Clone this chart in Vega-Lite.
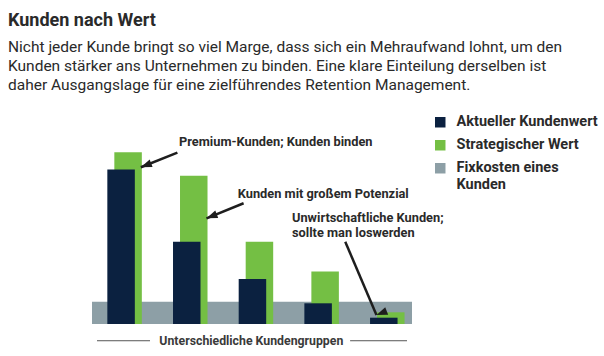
{
  "$schema": "https://vega.github.io/schema/vega-lite/v6.json",
  "autosize": "none",
  "width": 320,
  "height": 180,
  "padding": {"left": 92, "top": 144, "right": 192, "bottom": 32},
  "background": "white",
  "config": {
    "font": "Roboto, sans-serif",
    "view": {"stroke": null}
  },
  "title": {
    "text": "Kunden nach Wert",
    "subtitle": [
      "Nicht jeder Kunde bringt so viel Marge, dass sich ein Mehraufwand lohnt, um den",
      "Kunden stärker ans Unternehmen zu binden. Eine klare Einteilung derselben ist",
      "daher Ausgangslage für eine zielführendes Retention Management."
    ],
    "anchor": "start",
    "frame": "group",
    "dx": -84,
    "offset": 22,
    "fontSize": 18,
    "fontWeight": "bold",
    "color": "#2a2a2a",
    "subtitleFontSize": 15.5,
    "subtitleColor": "#2a2a2a",
    "subtitleFontWeight": "normal",
    "subtitlePadding": 10,
    "subtitleLineHeight": 19
  },
  "datasets": {
    "werte": [
      {"gruppe": 1, "serie": "Strategischer Wert", "wert": 95.4},
      {"gruppe": 2, "serie": "Strategischer Wert", "wert": 82.4},
      {"gruppe": 3, "serie": "Strategischer Wert", "wert": 45.7},
      {"gruppe": 4, "serie": "Strategischer Wert", "wert": 29.1},
      {"gruppe": 5, "serie": "Strategischer Wert", "wert": 6.5},
      {"gruppe": 1, "serie": "Aktueller Kundenwert", "wert": 85.9},
      {"gruppe": 2, "serie": "Aktueller Kundenwert", "wert": 45.7},
      {"gruppe": 3, "serie": "Aktueller Kundenwert", "wert": 25.0},
      {"gruppe": 4, "serie": "Aktueller Kundenwert", "wert": 11.5},
      {"gruppe": 5, "serie": "Aktueller Kundenwert", "wert": 3.5}
    ],
    "fix": [
      {"serie": "Fixkosten eines Kunden", "wert": 12.4}
    ],
    "notizen": [
      {"text": "Premium-Kunden; Kunden binden", "x": 1.829, "y": 101.3},
      {"text": "Kunden mit großem Potenzial", "x": 2.723, "y": 72.2},
      {"text": "Unwirtschaftliche Kunden;", "x": 3.549, "y": 58.7},
      {"text": "sollte man loswerden", "x": 3.549, "y": 50.4}
    ],
    "pfeile": [
      {"pfeil": "Premium", "x1": 1.804, "y1": 95.2, "x2": 1.248, "y2": 87.1},
      {"pfeil": "Potenzial", "x1": 2.812, "y1": 67.1, "x2": 2.247, "y2": 58.7},
      {"pfeil": "Unwirtschaftlich", "x1": 4.36, "y1": 45.7, "x2": 4.835, "y2": 5.0}
    ],
    "achse": [
      {"x1": 0.58, "x2": 1.387, "y": -9.3},
      {"x1": 4.434, "x2": 5.3, "y": -9.3}
    ],
    "achsentitel": [
      {"text": "Unterschiedliche Kundengruppen", "x": 2.93, "y": -9.3}
    ]
  },
  "layer": [
    {
      "data": {"name": "fix"},
      "mark": {"type": "rect"},
      "encoding": {
        "y": {"field": "wert", "type": "quantitative", "scale": {"domain": [0, 100], "nice": false, "zero": false}, "axis": null},
        "y2": {"datum": 0},
        "color": {
          "field": "serie",
          "type": "nominal",
          "scale": {
            "domain": ["Aktueller Kundenwert", "Strategischer Wert", "Fixkosten eines Kunden"],
            "range": ["#0b2140", "#74bf44", "#8d9fa6"]
          },
          "legend": {
            "title": null,
            "orient": "none",
            "legendX": 341,
            "legendY": -29,
            "padding": 0,
            "symbolType": "square",
            "symbolSize": 110,
            "symbolStrokeWidth": 0,
            "symbolOpacity": 1,
            "labelFontSize": 14.5,
            "labelFontWeight": "bold",
            "labelColor": "#2a2a2a",
            "labelOffset": 9,
            "rowPadding": 8,
            "labelLimit": 300,
            "labelExpr": "datum.label == 'Fixkosten eines Kunden' ? ['Fixkosten eines', 'Kunden'] : datum.label"
          }
        }
      }
    },
    {
      "data": {"name": "werte"},
      "transform": [{"filter": "datum.serie == 'Strategischer Wert'"}],
      "mark": {"type": "bar", "width": 27.5, "xOffset": 3.5},
      "encoding": {
        "x": {"field": "gruppe", "type": "quantitative", "scale": {"domain": [0.58, 5.3], "nice": false, "zero": false}, "axis": null},
        "y": {"field": "wert", "type": "quantitative"},
        "color": {"field": "serie", "type": "nominal"}
      }
    },
    {
      "data": {"name": "werte"},
      "transform": [{"filter": "datum.serie == 'Aktueller Kundenwert'"}],
      "mark": {"type": "bar", "width": 27.5, "xOffset": -3.5},
      "encoding": {
        "x": {"field": "gruppe", "type": "quantitative"},
        "y": {"field": "wert", "type": "quantitative"},
        "color": {"field": "serie", "type": "nominal"}
      }
    },
    {
      "data": {"name": "pfeile"},
      "mark": {"type": "rule", "strokeWidth": 2.5, "color": "#1e1e1e"},
      "encoding": {
        "x": {"field": "x1", "type": "quantitative"},
        "y": {"field": "y1", "type": "quantitative"},
        "x2": {"field": "x2"},
        "y2": {"field": "y2"}
      }
    },
    {
      "data": {"name": "pfeile"},
      "mark": {"type": "point", "filled": true, "opacity": 1, "color": "#1e1e1e", "shape": "M0,0L0.8,2.2L-0.8,2.2Z", "size": 100},
      "encoding": {
        "x": {"field": "x2", "type": "quantitative"},
        "y": {"field": "y2", "type": "quantitative"},
        "angle": {
          "field": "pfeil",
          "type": "nominal",
          "scale": {"domain": ["Premium", "Potenzial", "Unwirtschaftlich"], "range": [248.8, 248.6, 156.3]},
          "legend": null
        }
      }
    },
    {
      "data": {"name": "notizen"},
      "mark": {"type": "text", "align": "left", "baseline": "middle", "fontSize": 12.8, "fontWeight": "bold", "color": "#2a2a2a"},
      "encoding": {
        "x": {"field": "x", "type": "quantitative"},
        "y": {"field": "y", "type": "quantitative"},
        "text": {"field": "text"}
      }
    },
    {
      "data": {"name": "achse"},
      "mark": {"type": "rule", "strokeWidth": 1, "color": "#555555"},
      "encoding": {
        "x": {"field": "x1", "type": "quantitative"},
        "x2": {"field": "x2"},
        "y": {"field": "y", "type": "quantitative"}
      }
    },
    {
      "data": {"name": "achsentitel"},
      "mark": {"type": "text", "align": "center", "baseline": "middle", "fontSize": 12.3, "fontWeight": "bold", "color": "#3a3a3a"},
      "encoding": {
        "x": {"field": "x", "type": "quantitative"},
        "y": {"field": "y", "type": "quantitative"},
        "text": {"field": "text"}
      }
    }
  ]
}
